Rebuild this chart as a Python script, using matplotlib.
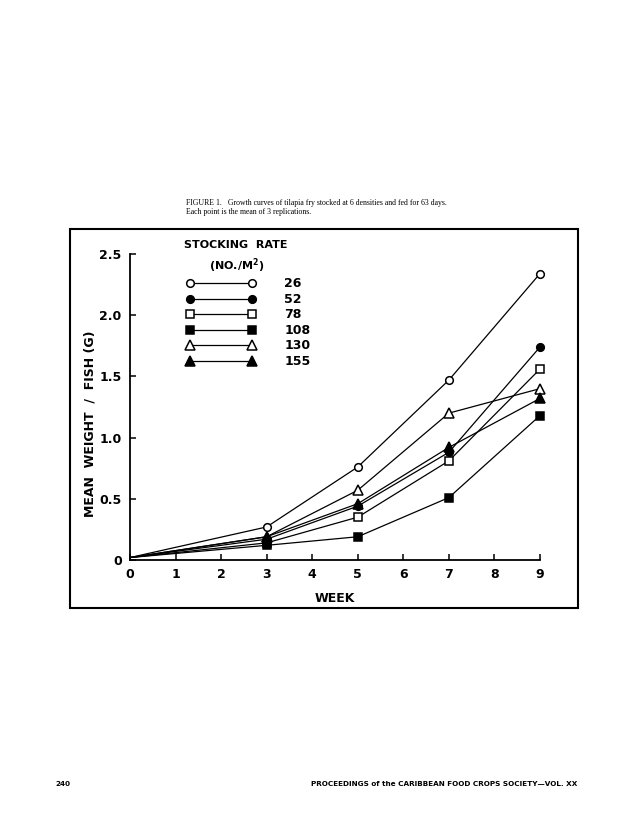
import matplotlib
matplotlib.use("Agg")
import matplotlib.pyplot as plt
from matplotlib.patches import Rectangle

weeks = [0, 3, 5, 7, 9]
rates = ["26", "52", "78", "108", "130", "155"]
w26 = [0.02, 0.27, 0.76, 1.47, 2.34]
w52 = [0.02, 0.17, 0.44, 0.88, 1.74]
w78 = [0.02, 0.14, 0.35, 0.81, 1.56]
w108 = [0.02, 0.12, 0.19, 0.51, 1.18]
w130 = [0.02, 0.19, 0.57, 1.20, 1.40]
w155 = [0.02, 0.19, 0.46, 0.92, 1.32]
series = [w26, w52, w78, w108, w130, w155]
x_ticks = [0, 1, 2, 3, 4, 5, 6, 7, 8, 9]
y_ticks = [0, 0.5, 1.0, 1.5, 2.0, 2.5]
y_ticklabels = ["0", "0.5", "1.0", "1.5", "2.0", "2.5"]

markers = ["o", "o", "s", "s", "^", "^"]
filled = [False, True, False, True, False, True]
msizes = [5.5, 5.5, 5.5, 5.5, 6.5, 6.5]

fig = plt.figure(figsize=(6.3, 8.34), dpi=100)
W, H = 630, 834

def fx(px):
    return px / W

def fy(py):
    return 1 - py / H

ax = fig.add_axes([fx(130), fy(560), fx(540) - fx(130), fy(254) - fy(560)])

for vals, m, f, ms, lab in zip(series, markers, filled, msizes, rates):
    ax.plot(weeks, vals, color="black", lw=0.9, marker=m, ms=ms, mew=1.1,
            mfc="black" if f else "white", mec="black", clip_on=False,
            markevery=[1, 2, 3, 4], label=lab, zorder=3)

ax.set_xlim(0, 9)
ax.set_ylim(0, 2.5)
ax.set_xticks(x_ticks)
ax.set_xticklabels([str(v) for v in x_ticks])
ax.set_yticks(y_ticks)
ax.set_yticklabels(y_ticklabels)
for s in ["top", "right"]:
    ax.spines[s].set_visible(False)
for s in ["left", "bottom"]:
    ax.spines[s].set_linewidth(1.3)
ax.tick_params(direction="in", length=4, width=1.1, labelsize=9, pad=6)
for t in ax.get_xticklabels() + ax.get_yticklabels():
    t.set_fontweight("semibold")

ax.set_xlabel("WEEK", fontsize=9, fontweight="bold")
ax.xaxis.set_label_coords(0.5, -0.105)
ax.set_ylabel("MEAN  WEIGHT  /  FISH (G)", fontsize=9, fontweight="bold")
ax.yaxis.set_label_coords(-0.082, 0.444)

handles, labels = ax.get_legend_handles_labels()
pad = "\u00a0" * 5
leg = ax.legend(handles, labels, loc="upper left", bbox_to_anchor=(0.11, 1.075),
                frameon=False, fontsize=9, numpoints=2,
                title="STOCKING  RATE" + pad + "\n(NO./M$^\\mathbf{2}$)" + pad,
                title_fontproperties={"size": 8, "weight": "bold"},
                handlelength=5.6, handletextpad=1.8, labelspacing=0.2,
                borderpad=0.2, alignment="center")
leg.get_title().set_multialignment("center")
leg.get_title().set_linespacing(1.5)
for h in leg.legend_handles:
    h.set_markevery(None)
for t in leg.get_texts():
    t.set_fontweight("semibold")
    t.set_ha("right")
    t.set_position((6, 0))

# frame box
fig.patches.append(Rectangle((fx(70), fy(608)), fx(578) - fx(70), fy(229) - fy(608),
                             transform=fig.transFigure, fill=False, lw=1.5,
                             ec="black"))

fig.text(fx(186), fy(203), "FIGURE 1.   Growth curves of tilapia fry stocked at 6 densities and fed for 63 days.",
         fontsize=5.6, family="Liberation Serif", va="center", ha="left")
fig.text(fx(186), fy(212), "Each point is the mean of 3 replications.",
         fontsize=5.6, family="Liberation Serif", va="center", ha="left")

fig.text(fx(55), fy(784), "240", fontsize=5.2, fontweight="bold",
         family=["Liberation Sans Narrow", "DejaVu Sans"], va="center", ha="left")
fig.text(fx(577), fy(784), "PROCEEDINGS of the CARIBBEAN FOOD CROPS SOCIETY\u2014VOL. XX",
         fontsize=5.2, fontweight="bold", family=["Liberation Sans Narrow", "DejaVu Sans"],
         va="center", ha="right")

fig.savefig("out.png", dpi=100)
